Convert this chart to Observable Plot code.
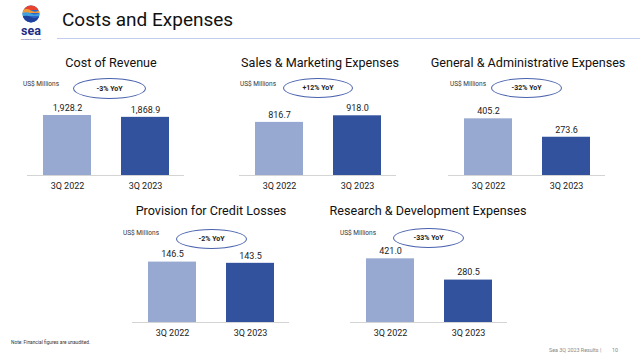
<!DOCTYPE html>
<html>
<head>
<meta charset="utf-8">
<script src="https://cdn.jsdelivr.net/npm/d3@7"></script>
<script src="https://cdn.jsdelivr.net/npm/@observablehq/plot@0.6"></script>
<style>
  html, body { margin: 0; padding: 0; background: #fff; }
  #page { position: relative; width: 640px; height: 358px; overflow: hidden; font-family: Roboto, "Open Sans", sans-serif; color: #222; }
  .abs { position: absolute; white-space: nowrap; }
  .ptitle { font-size: 12.6px; transform: translate(-50%, -50%); color: #111; }
  .unit { font-size: 6.5px; transform: translateY(-50%); color: #333; }
  .oval { position: absolute; border: 1.2px solid #4a62ad; border-radius: 50%; box-sizing: border-box; display: flex; align-items: center; justify-content: center; font-size: 7px; font-weight: bold; color: #222; z-index: 3; background: transparent; }
  .plotwrap { position: absolute; z-index: 1; }
</style>
</head>
<body>
<div id="page">
  <svg class="abs" style="left:14px;top:3px;z-index:2" width="40" height="40" viewBox="0 0 40 40">
    <defs>
      <clipPath id="lc"><circle cx="17" cy="11" r="8.5"/></clipPath>
    </defs>
    <g clip-path="url(#lc)">
      <rect x="8" y="2" width="18" height="18" fill="#2a66c8"/>
      <rect x="8" y="2" width="18" height="5" fill="#e8432d"/>
      <path d="M8 7 Q13 5 17 7.5 T26 7 V10 H8Z" fill="#f29a38"/>
      <path d="M8 10 Q13 8.5 17 10.5 T26 10 V13 H8Z" fill="#3fa0dd"/>
      <path d="M8 13.5 Q13 12 17 14 T26 13.5 V20 H8Z" fill="#1e3f9e"/>
    </g>
    <text x="17" y="32" text-anchor="middle" font-family="Roboto, sans-serif" font-weight="bold" font-size="12.5" fill="#1b2d86">sea</text>
    <text x="17" y="37" text-anchor="middle" font-family="Roboto, sans-serif" font-size="2.3" fill="#1b2d86">connecting the dots</text>
  </svg>
  <div class="abs" style="left:62px;top:8px;font-size:19px;color:#111;">Costs and Expenses</div>
  <div class="abs" style="left:57px;top:38px;width:583px;height:1px;background:#c3ccec;"></div>
  <div class="abs" style="left:11px;top:340px;font-size:4.8px;color:#333;">Note: Financial figures are unaudited.</div>
  <div class="abs" style="left:549px;top:347px;font-size:5.4px;color:#888;">Sea 3Q 2023 Results |</div>
  <div class="abs" style="left:612px;top:347px;font-size:5.4px;color:#888;">10</div>
</div>
<script>
// ---- data ----
const categories = ["3Q 2022", "3Q 2023"];
const titles = [
  "Cost of Revenue",
  "Sales & Marketing Expenses",
  "General & Administrative Expenses",
  "Provision for Credit Losses",
  "Research & Development Expenses"
];
const values2022 = [1928.2, 816.7, 405.2, 146.5, 421.0];
const values2023 = [1868.9, 918.0, 273.6, 143.5, 280.5];
const yoyLabels = ["-3% YoY", "+12% YoY", "-32% YoY", "-2% YoY", "-33% YoY"];
const unitLabel = "US$ Millions";
const yMax = [2571, 1230, 572, 194, 529];

// ---- layout ----
const layout = [
  {frameLeft: 27,  baseline: 175, titleX: 111, titleY: 62,  unitX: 23,  unitY: 84,  ovalL: 73,  ovalR: 146, ovalT: 78,  ovalB: 99},
  {frameLeft: 239, baseline: 175, titleX: 320, titleY: 62,  unitX: 240, unitY: 84,  ovalL: 283, ovalR: 353, ovalT: 78,  ovalB: 98},
  {frameLeft: 448, baseline: 175, titleX: 528, titleY: 62,  unitX: 450, unitY: 84,  ovalL: 491, ovalR: 562, ovalT: 78,  ovalB: 98},
  {frameLeft: 132, baseline: 322, titleX: 211, titleY: 210, unitX: 123, unitY: 233, ovalL: 176, ovalR: 247, ovalT: 229, ovalB: 249},
  {frameLeft: 350, baseline: 322, titleX: 428, titleY: 210, unitX: 340, unitY: 233, ovalL: 393, ovalR: 464, ovalT: 228, ovalB: 248}
];
const colors = ["#97a9d0", "#33529e"];
const frameW = 157, frameH = 80, mL = 10, mR = 10, mT = 20, mB = 24;
const fmt = d3.format(",.1f");
const page = document.getElementById("page");

titles.forEach((title, i) => {
  const L = layout[i];
  const data = categories.map((c, j) => ({cat: c, value: j === 0 ? values2022[i] : values2023[i]}));
  const chart = Plot.plot({
    width: frameW + mL + mR,
    height: frameH + mT + mB,
    marginLeft: mL, marginRight: mR, marginTop: mT, marginBottom: mB,
    style: {fontFamily: "Roboto, sans-serif", background: "transparent", overflow: "visible", color: "#222"},
    x: {domain: categories, paddingInner: 0.39, paddingOuter: 0.2, label: null},
    y: {domain: [0, yMax[i]], axis: null},
    color: {domain: categories, range: colors},
    marks: [
      Plot.barY(data, {x: "cat", y: "value", fill: "cat"}),
      Plot.ruleY([0], {stroke: "#d4d4d4", strokeWidth: 1.2}),
      Plot.text(data, {x: "cat", y: "value", text: d => fmt(d.value), dy: -7.5, fontSize: 9, fill: "#222"}),
      Plot.axisX({tickSize: 0, tickPadding: 7, fontSize: 9, fill: "#222"})
    ]
  });
  const wrap = document.createElement("div");
  wrap.className = "plotwrap";
  wrap.style.left = (L.frameLeft - mL) + "px";
  wrap.style.top = (L.baseline - frameH - mT) + "px";
  wrap.appendChild(chart);
  page.appendChild(wrap);

  const t = document.createElement("div");
  t.className = "abs ptitle";
  t.style.left = L.titleX + "px"; t.style.top = L.titleY + "px";
  t.textContent = title;
  page.appendChild(t);

  const u = document.createElement("div");
  u.className = "abs unit";
  u.style.left = L.unitX + "px"; u.style.top = L.unitY + "px";
  u.textContent = unitLabel;
  page.appendChild(u);

  const o = document.createElement("div");
  o.className = "oval";
  o.style.left = L.ovalL + "px"; o.style.top = L.ovalT + "px";
  o.style.width = (L.ovalR - L.ovalL) + "px"; o.style.height = (L.ovalB - L.ovalT) + "px";
  o.textContent = yoyLabels[i];
  page.appendChild(o);
});
</script>
</body>
</html>
